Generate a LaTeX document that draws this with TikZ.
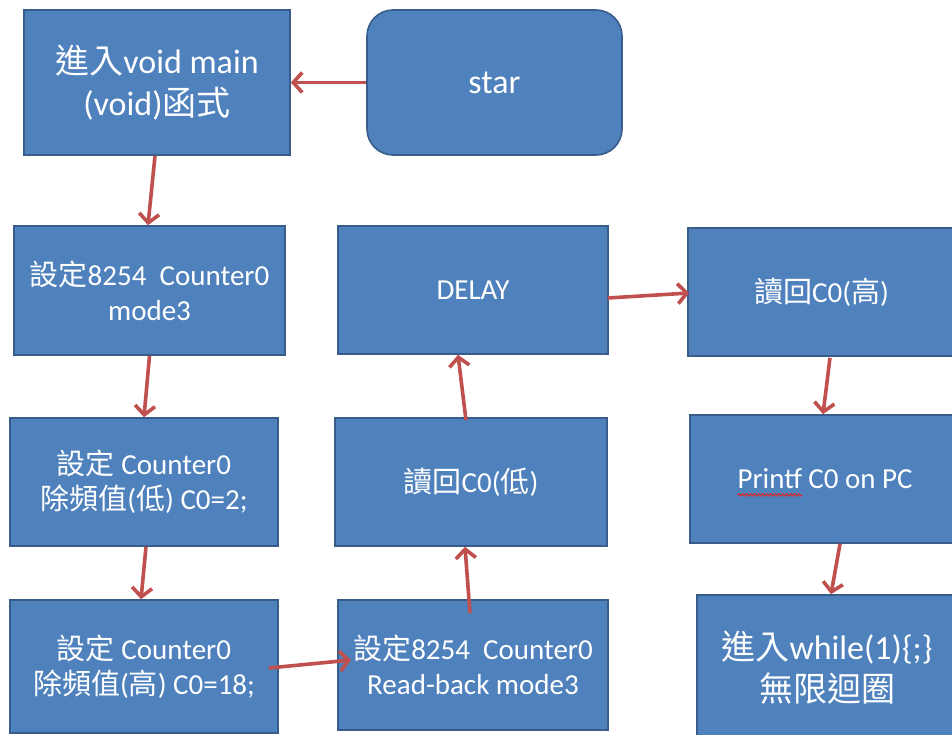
\documentclass[tikz,border=0pt]{standalone}
\usepackage{fontspec}
\setmainfont{Carlito}
\newfontfamily\cjk{Noto Sans CJK TC}
\usetikzlibrary{arrows.meta,calc,decorations.pathmorphing}
\definecolor{boxfill}{HTML}{4F81BD}
\definecolor{boxline}{HTML}{385D8A}
\definecolor{arrowred}{HTML}{C0504D}
\definecolor{spellred}{HTML}{E02020}
\tikzset{
  flowbox/.style={draw=boxline, fill=boxfill, line width=1.6pt, inner sep=0pt,
    text=white, align=center, font=\fontsize{29}{35}\selectfont},
  bigtext/.style={font=\fontsize{34}{42}\selectfont},
  flowarrow/.style={draw=arrowred, line width=3.6pt, -{Straight Barb[length=9pt,width=20pt]}}
}
\begin{document}
\begin{tikzpicture}[x=1pt,y=-1pt]
\useasboundingbox (0,0) rectangle (952,735);
\clip (0,0) rectangle (952,735);
\node[flowbox,bigtext,minimum width=266pt,minimum height=145pt] (A) at (157,82.5) {{\cjk 進入}void main\\(void){\cjk 函式}};
\node[flowbox,bigtext,rounded corners=26pt,minimum width=255pt,minimum height=145pt] (S) at (494.5,82.5) {star};
\node[flowbox,minimum width=271pt,minimum height=129pt] (B) at (149.5,290.5) {{\cjk 設定}8254\ \ Counter0\\mode3};
\node[flowbox,minimum width=268pt,minimum height=128pt] (C) at (144,482) {{\cjk 設定} Counter0\\{\cjk 除頻值}({\cjk 低}) C0=2;};
\node[flowbox,minimum width=268pt,minimum height=133pt] (D) at (144,666.5) {{\cjk 設定} Counter0\\{\cjk 除頻值}({\cjk 高}) C0=18;};
\node[flowbox,minimum width=270pt,minimum height=130pt] (E) at (473,665) {{\cjk 設定}8254\ \ Counter0\\Read-back mode3};
\node[flowbox,minimum width=272pt,minimum height=128pt] (F) at (471,482) {{\cjk 讀回}C0({\cjk 低})};
\node[flowbox,minimum width=270pt,minimum height=128pt] (G) at (473,290) {DELAY};
\node[flowbox,minimum width=267pt,minimum height=128pt] (H) at (821.5,292) {{\cjk 讀回}C0({\cjk 高})};
\node[flowbox,minimum width=270pt,minimum height=128pt] (I) at (825,479) {\phantom{Printf} C0 on PC};
\node[flowbox,bigtext,minimum width=260pt,minimum height=145pt] (J) at (827,667.5) {{\cjk 進入}while(1)\{;\}\\{\cjk 無限迴圈}};
% "Printf" word with red wavy underline
\node[text=white,font=\fontsize{29}{35}\selectfont,inner sep=0pt,anchor=base west] (PW) at (I.text) {Printf};
\draw[spellred,line width=1pt,decorate,decoration={snake,amplitude=1.2pt,segment length=4pt}]
  ($(PW.base west)+(0,6)$) -- ($(PW.base east)+(0,6)$);
% connectors
\draw[flowarrow] (S.west) -- (A.east);
\draw[flowarrow] ($(A.south)+(-2,0)$) -- ($(B.north)+(-1.5,0)$);
\draw[flowarrow] (B.south) -- (C.north);
\draw[flowarrow] ($(C.south)+(2,0)$) -- ($(D.north)+(-3,0)$);
\draw[flowarrow] ($(D.east)+(-10,1.5)$) -- ($(E.west)+(14,-5)$);
\draw[flowarrow] ($(E.north)+(-3,14)$) -- ($(F.south)+(-6,0)$);
\draw[flowarrow] ($(F.north)+(-5,3)$) -- ($(G.south)+(-15,0)$);
\draw[flowarrow] ($(G.east)+(-1,8)$) -- ($(H.west)+(2,1)$);
\draw[flowarrow] ($(H.south)+(8.5,1)$) -- ($(I.north)+(-2,0)$);
\draw[flowarrow] ($(I.south)+(15,0)$) -- ($(J.north)+(4,0)$);
\end{tikzpicture}
\end{document}
